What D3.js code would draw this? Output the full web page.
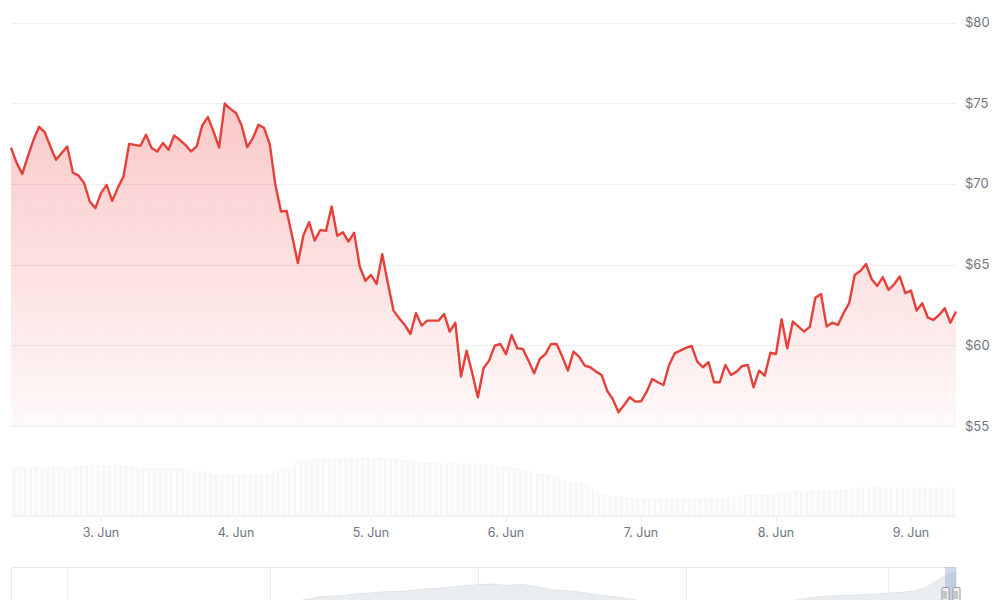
<!DOCTYPE html>
<html>
<head>
<meta charset="utf-8">
<script src="https://cdn.jsdelivr.net/npm/d3@7"></script>
<style>
  body { margin: 0; background: #fff; }
  text { font-family: Inter, "Noto Sans", sans-serif; }
</style>
</head>
<body>
<script>
  var w = 1000 //page width
  var h = 600 //page height

  //DATA (hourly, first point 2 Jun 08:00 UTC)
  var startTime = Date.UTC(2024, 5, 2, 8)

  var prices = [
      72.25, 71.30, 70.62, 71.70, 72.73, 73.54, 73.21, 72.32, 71.49, 71.91,
      72.32, 70.70, 70.52, 70.05, 68.91, 68.50, 69.43, 69.94, 68.95, 69.77,
      70.46, 72.48, 72.42, 72.36, 73.04, 72.22, 72.01, 72.53, 72.11, 73.00,
      72.73, 72.42, 72.01, 72.32, 73.62, 74.14, 73.25, 72.25, 74.98, 74.65,
      74.39, 73.62, 72.28, 72.84, 73.66, 73.46, 72.46, 69.94, 68.29, 68.33,
      66.74, 65.09, 66.84, 67.63, 66.49, 67.15, 67.09, 68.60, 66.78, 67.01,
      66.43, 66.98, 64.88, 63.99, 64.36, 63.80, 65.64, 63.85, 62.15, 61.68,
      61.26, 60.70, 61.99, 61.22, 61.53, 61.53, 61.53, 61.94, 60.85, 61.40,
      58.06, 59.67, 58.27, 56.78, 58.58, 59.05, 59.98, 60.08, 59.45, 60.64,
      59.82, 59.77, 59.05, 58.27, 59.15, 59.45, 60.08, 60.08, 59.30, 58.43,
      59.61, 59.30, 58.74, 58.64, 58.37, 58.16, 57.17, 56.66, 55.85, 56.30,
      56.78, 56.51, 56.53, 57.11, 57.91, 57.71, 57.54, 58.78, 59.51, 59.67,
      59.84, 59.96, 58.99, 58.64, 58.95, 57.71, 57.71, 58.78, 58.16, 58.37,
      58.72, 58.78, 57.40, 58.43, 58.12, 59.54, 59.46, 61.61, 59.82, 61.47,
      61.16, 60.85, 61.14, 62.95, 63.18, 61.16, 61.40, 61.26, 61.99, 62.61,
      64.36, 64.61, 65.04, 64.11, 63.68, 64.22, 63.43, 63.78, 64.26, 63.23,
      63.39, 62.15, 62.61, 61.71, 61.57, 61.88, 62.30, 61.40, 62.09
  ];

  var volumes = [
      48, 48, 48, 48, 48, 48, 48, 48, 48, 48,
      48, 48, 50, 50, 51, 51, 50, 50, 50, 51,
      50, 50, 49, 47, 47, 47, 47, 47, 47, 47,
      47, 47, 45, 44, 44, 43, 41, 41, 42, 41,
      41, 41, 41, 42, 41, 41, 42, 44, 46, 47,
      50, 54, 55, 56, 56, 56, 57, 57, 57, 57,
      57, 57, 58, 58, 57, 58, 58, 57, 57, 56,
      55, 55, 54, 54, 53, 53, 52, 52, 53, 52,
      52, 52, 52, 51, 51, 51, 50, 49, 48, 48,
      47, 46, 44, 43, 42, 41, 40, 38, 35, 34,
      33, 33, 32, 28, 24, 21, 20, 19, 19, 18,
      18, 17, 17, 17, 17, 17, 17, 17, 17, 17,
      17, 17, 17, 17, 17, 17, 17, 17, 18, 20,
      20, 21, 21, 21, 21, 22, 22, 23, 24, 24,
      24, 24, 24, 25, 25, 24, 25, 25, 26, 26,
      27, 28, 28, 28, 29, 28, 28, 28, 28, 28,
      28, 28, 28, 27, 27, 28, 28, 28, 27
  ];

  var priceTicks = [55, 60, 65, 70, 75, 80];
  var dayTicks = [3, 4, 5, 6, 7, 8, 9]; //June
  var navLines = [67, 270, 478, 686, 888]; //navigator grid (px, long-range ticks)

  var navValues = [
      10, 12, 11, 13, 14, 12, 11, 13, 15, 14,
      13, 15, 16, 15, 17, 18, 20, 19, 21, 24,
      30, 35, 36, 40, 42, 45, 46, 49, 52, 54,
      57, 60, 62, 59, 61, 56, 50, 47, 44, 38,
      35, 30, 25, 22, 20, 18, 17, 18, 16, 18,
      20, 22, 25, 30, 34, 36, 37, 39, 40, 43,
      46, 55, 75, 90
  ];

  var data = prices.map(function (p, i) {
      return { date: new Date(startTime + i * 3600000), price: p, volume: volumes[i] };
  });

  //SCALES

  var x = d3.scaleUtc()
      .domain([data[0].date, data[data.length - 1].date])
      .range([11, 956]);

  var y = d3.scaleLinear()
      .domain([55, 80])
      .range([426, 22.5]);

  var yVol = d3.scaleLinear()
      .domain([0, 60])
      .range([516, 456]);

  var xNav = d3.scaleLinear()
      .domain([0, navValues.length - 1])
      .range([11, 956]);

  var yNav = d3.scaleLinear()
      .domain([0, 100])
      .range([612, 567]);

  var svg = d3.select("body")
      .append("svg")
      .attr("width", w)
      .attr("height", h);

  var defs = svg.append("defs");

  var grad = defs.append("linearGradient")
      .attr("id", "areaGrad")
      .attr("gradientUnits", "userSpaceOnUse")
      .attr("x1", 0).attr("x2", 0)
      .attr("y1", y(80)).attr("y2", y(55));
  grad.append("stop").attr("offset", "0%").attr("stop-color", "#ef4444").attr("stop-opacity", 0.36);
  grad.append("stop").attr("offset", "100%").attr("stop-color", "#ef4444").attr("stop-opacity", 0.03);

  var dots = defs.append("pattern")
      .attr("id", "dots")
      .attr("patternUnits", "userSpaceOnUse")
      .attr("width", 10)
      .attr("height", 9);
  dots.append("circle")
      .attr("cx", 5).attr("cy", 4.5).attr("r", 0.8)
      .attr("fill", "#e07a74")
      .attr("opacity", 0.12);

  defs.append("clipPath")
      .attr("id", "volClip")
      .append("rect")
      .attr("x", 11).attr("y", 440)
      .attr("width", 945).attr("height", 80);

  //GRIDLINES

  svg.selectAll("line.grid")
      .data(priceTicks)
      .enter()
      .append("line")
      .attr("class", "grid")
      .attr("x1", 11)
      .attr("x2", 956)
      .attr("y1", function (d) { return Math.round(y(d)) + 0.5; })
      .attr("y2", function (d) { return Math.round(y(d)) + 0.5; })
      .attr("stroke", "#eceef1")
      .attr("stroke-width", 1);

  //AREA + LINE

  var area = d3.area()
      .x(function (d) { return x(d.date); })
      .y0(y(55))
      .y1(function (d) { return y(d.price); });

  var line = d3.line()
      .x(function (d) { return x(d.date); })
      .y(function (d) { return y(d.price); });

  svg.append("path")
      .datum(data)
      .attr("d", area)
      .attr("fill", "url(#areaGrad)");

  svg.append("path")
      .datum(data)
      .attr("d", area)
      .attr("fill", "url(#dots)");

  svg.append("path")
      .datum(data)
      .attr("d", line)
      .attr("fill", "none")
      .attr("stroke", "#e5413a")
      .attr("stroke-width", 2.4)
      .attr("stroke-linejoin", "round");

  //Y LABELS

  svg.selectAll("text.ylab")
      .data(priceTicks)
      .enter()
      .append("text")
      .attr("class", "ylab")
      .attr("x", 965)
      .attr("y", function (d) { return y(d) + 4.5; })
      .attr("font-size", "13px")
      .attr("fill", "#6f7581")
      .text(function (d) { return "$" + d; });

  //VOLUME

  var step = x(data[1].date) - x(data[0].date);

  svg.append("g")
      .attr("clip-path", "url(#volClip)")
      .selectAll("rect.vol")
      .data(data)
      .enter()
      .append("rect")
      .attr("class", "vol")
      .attr("x", function (d) { return x(d.date) - step / 2 + 0.5; })
      .attr("y", function (d) { return yVol(d.volume); })
      .attr("width", step - 1)
      .attr("height", function (d) { return yVol(0) - yVol(d.volume); })
      .attr("fill", "#fcfcfd")
      .attr("stroke", "#eaedf0")
      .attr("stroke-width", 0.5);

  svg.append("line")
      .attr("x1", 11).attr("x2", 956)
      .attr("y1", 516.5).attr("y2", 516.5)
      .attr("stroke", "#edeff2");

  //X AXIS

  svg.selectAll("line.xtick")
      .data(dayTicks)
      .enter()
      .append("line")
      .attr("class", "xtick")
      .attr("x1", function (d) { return Math.round(x(new Date(Date.UTC(2024, 5, d)))) + 0.5; })
      .attr("x2", function (d) { return Math.round(x(new Date(Date.UTC(2024, 5, d)))) + 0.5; })
      .attr("y1", 516)
      .attr("y2", 522)
      .attr("stroke", "#eceef1");

  svg.selectAll("text.xlab")
      .data(dayTicks)
      .enter()
      .append("text")
      .attr("class", "xlab")
      .attr("x", function (d) { return x(new Date(Date.UTC(2024, 5, d))); })
      .attr("y", 537)
      .attr("text-anchor", "middle")
      .attr("font-size", "12.5px")
      .attr("fill", "#6f7581")
      .text(function (d) { return d + ". Jun"; });

  //NAVIGATOR

  var nav = svg.append("g");

  nav.selectAll("line.navgrid")
      .data(navLines)
      .enter()
      .append("line")
      .attr("x1", function (d) { return d + 0.5; })
      .attr("x2", function (d) { return d + 0.5; })
      .attr("y1", 567)
      .attr("y2", 600)
      .attr("stroke", "#eceef1");

  var navArea = d3.area()
      .x(function (d, i) { return xNav(i); })
      .y0(612)
      .y1(function (d) { return yNav(d); })
      .curve(d3.curveMonotoneX);

  nav.append("path")
      .datum(navValues)
      .attr("d", navArea)
      .attr("fill", "#eaedf0")
      .attr("stroke", "#e1e4e8")
      .attr("stroke-width", 1);

  nav.append("rect")
      .attr("x", 11.5)
      .attr("y", 567.5)
      .attr("width", 944.5)
      .attr("height", 50)
      .attr("fill", "none")
      .attr("stroke", "#e6e8eb");

  //selected range
  nav.append("rect")
      .attr("x", 945)
      .attr("y", 567)
      .attr("width", 11)
      .attr("height", 40)
      .attr("fill", "rgba(102,133,194,0.3)");

  var handles = nav.selectAll("g.handle")
      .data([945, 956])
      .enter()
      .append("g")
      .attr("transform", function (d) { return "translate(" + (d - 3.5) + ",587)"; });

  handles.append("rect")
      .attr("x", 0.5).attr("y", 0.5)
      .attr("width", 7).attr("height", 15)
      .attr("rx", 1)
      .attr("fill", "#f2f2f2")
      .attr("stroke", "#999");

  handles.selectAll("line")
      .data([3, 5])
      .enter()
      .append("line")
      .attr("x1", function (d) { return d - 0.5; })
      .attr("x2", function (d) { return d - 0.5; })
      .attr("y1", 4).attr("y2", 12)
      .attr("stroke", "#999");
</script>
</body>
</html>
